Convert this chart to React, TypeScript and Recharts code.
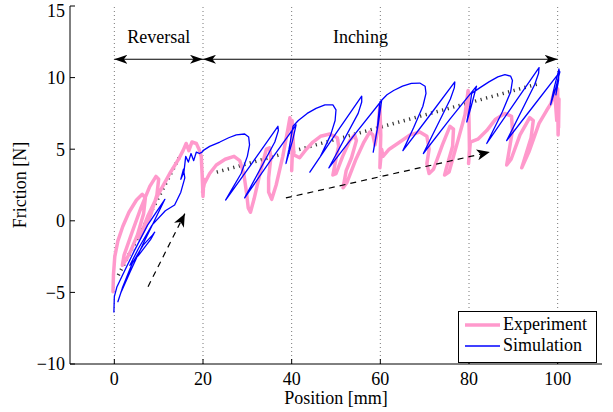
import React from 'react';
import {
  LineChart, Line, XAxis, YAxis, ReferenceLine, ReferenceDot, Legend, Label,
} from 'recharts';

const FONT = 'Liberation Serif, Tinos, Times New Roman, Times, DejaVu Serif, serif';

// ---- axis ticks / bounds ----
const xTicks = [0, 20, 40, 60, 80, 100];
const yTicks = [-10, -5, 0, 5, 10, 15];
const xDomain: [number, number] = [-10, 110];
const yDomain: [number, number] = [-10, 15];
const phaseBounds = [0, 20, 40, 60, 80, 100];

// ---- annotations ----
const phaseArrows = [
  { from: 0, to: 20, y: 11.28 },
  { from: 20, to: 100, y: 11.28 },
];
const phaseLabels = [
  { x: 10, y: 12.85, text: 'Reversal' },
  { x: 55.5, y: 12.85, text: 'Inching' },
];
const trendLines: [number, number][][] = [
  [[0.9, -3.8], [14.6, 4.4]],
  [[23.1, 3.4], [96, 9.6]],
];
const directionArrows: [number, number][][] = [
  [[7.6, -4.6], [15.9, 0.5]],
  [[38.7, 1.6], [84.7, 4.8]],
];

// ---- Simulation (blue) path, [position, friction] ----
const simReversal: [number, number][] = [
  [-0.1, -6.4], [0, -5.3], [0.6, -4.6], [2, -3.7], [4.5, -2.1], [7.5, -0.3], [11.4, 1.5],
  [9.5, 0.3], [6.5, -1.6], [3.5, -3.6], [1.5, -5.0], [0.8, -5.65], [1.8, -4.7], [4, -3.0],
  [6.5, -1.7], [8.6, -1.0], [9.1, -0.8], [8.2, -1.3], [5.5, -2.4], [3.5, -3.1], [5.5, -1.9],
  [8.5, -0.3], [11.5, 0.7], [13.6, 1.1], [15, 2], [15.9, 3.0], [15.6, 3.6], [15.0, 2.9],
  [15.7, 3.4], [16.1, 4.5], [16.7, 4.1], [17.3, 4.7], [17.9, 4.2], [18.5, 4.8], [19.2, 4.7],
  [19.8, 4.8], [20, 4.9],
];
const simInch1: [number, number][] = [
  [21.5, 5.2], [23.8, 5.5], [25.8, 5.8], [27.5, 6.0], [29.4, 6.06], [30.3, 5.85], [30.5, 5.3],
  [30.0, 4.5], [28.6, 3.3], [26.5, 2.2], [25.1, 1.45], [31, 4.0], [36.9, 6.6], [37.0, 6.3],
  [36.2, 5.5], [29.4, 1.6], [35.2, 4.2], [41.0, 6.7], [40.2, 5.6], [38.7, 4.0], [39.4, 5.0],
  [40.3, 6.6],
];
const simInch2: [number, number][] = [
  [41.5, 7.0], [43.5, 7.5], [45.5, 7.85], [47.5, 8.1], [49.3, 8.1], [50.0, 7.75], [49.8, 7.0],
  [48.8, 6.0], [46.5, 4.5], [44.1, 3.4], [50, 6.1], [55.8, 8.7], [55.8, 8.3], [55.0, 7.5],
  [48.4, 3.7], [54.4, 6.1], [60.3, 8.4], [59.5, 6.7], [58.4, 4.8], [59.3, 6.4], [59.9, 8.3],
];
const simInch3: [number, number][] = [
  [61.5, 8.8], [63, 9.1], [65, 9.4], [67, 9.6], [68.9, 9.62], [70.1, 9.4], [70.3, 8.9],
  [69.6, 8.0], [67.5, 6.5], [65.1, 4.9], [71, 7.3], [76.8, 9.7], [76.7, 9.3], [75.8, 8.5],
  [69.7, 4.7], [75.7, 7.1], [81.7, 9.4], [80.5, 8.0], [79.5, 6.9], [80.2, 8.0], [80.6, 8.9],
];
const simInch4: [number, number][] = [
  [82.5, 9.3], [84.5, 9.7], [86.5, 10.05], [88.1, 10.2], [89.4, 10.1], [89.8, 9.8], [89.4, 9.0],
  [87.5, 7.6], [84, 5.4], [90, 8.1], [95.8, 10.7], [95.7, 10.3], [94.8, 9.5], [88.5, 5.6],
  [94.5, 8.0], [100.5, 10.4], [99.5, 9.2], [98.4, 8.1], [99.3, 9.4], [100.3, 10.6], [100.2, 9.8],
  [99.6, 8.8], [100.4, 10.5],
];

// ---- Experiment (pink) path, [position, friction] ----
const expReversal: [number, number][] = [
  [-0.3, -4.95], [-0.2, -3.8], [0.1, -2.5], [0.8, -1.4], [1.9, -0.4], [3.3, 0.6], [5, 1.45],
  [6.3, 1.85], [7.0, 1.6], [6.6, 0.5], [5.2, -1.0], [3.7, -2.1], [2.7, -2.7], [1.8, -3.1],
  [2.2, -2.4], [4, -0.8], [6, 0.9], [8, 2.4], [9.4, 3.1], [10.0, 2.9], [9.6, 1.8], [8.2, 0.4],
  [6.6, -0.7], [5.7, -1.2], [7.5, 0.3], [10, 1.9], [12.5, 3.3], [14.4, 4.25], [15.5, 4.9],
  [16.2, 5.4], [16.8, 4.9], [17.5, 5.5], [18.5, 5.4], [19.1, 5.0], [19.6, 4.5], [19.8, 3.3],
  [20, 1.7], [20.2, 2.9], [19.9, 2.0],
];
const expInch1: [number, number][] = [
  [20.3, 2.6], [21.5, 3.3], [23, 3.9], [25, 4.3], [27, 4.5], [28.3, 4.2], [29.2, 3.3],
  [29.8, 2.0], [30.2, 0.9], [30.7, 0.6], [31.5, 1.5], [33, 3.5], [34.3, 5.0], [35, 5.1],
  [35.3, 4.4], [34.8, 3.0], [34.8, 2.0], [35.5, 1.5], [36.5, 2.5], [38, 4.5], [39.2, 6.5],
  [39.6, 7.2], [40, 6.0], [40.1, 4.5], [40, 3.5], [40.2, 5.0], [40.1, 7.0], [40.5, 4.6],
];
const expInch2: [number, number][] = [
  [41.8, 4.4], [43.3, 5.0], [44.8, 5.5], [46.5, 5.9], [48.6, 6.06], [50.3, 5.8], [50.6, 5.2],
  [50.1, 4.5], [49.3, 3.2], [50, 3.3], [51.5, 4.5], [53.1, 5.6], [54.2, 6.0], [54.6, 5.6],
  [53.5, 4.4], [52.3, 3.5], [51.6, 2.3], [52.5, 2.7], [54.5, 4.3], [56.3, 5.5], [57.6, 6.2],
  [58.3, 6.0], [58.8, 5.3], [59.5, 6.5], [59.9, 8.0], [60.1, 6.0], [59.9, 3.7], [60.3, 5.0],
  [60.6, 4.5],
];
const expInch3: [number, number][] = [
  [62, 5.0], [64.4, 5.5], [66.7, 6.0], [68.9, 6.2], [70.5, 5.9], [71, 5.0], [70.5, 4.0],
  [71, 3.3], [72, 3.6], [74, 5.3], [75.7, 6.6], [76.5, 6.4], [76.3, 5.2], [75, 3.8], [74.5, 3.2],
  [75.5, 3.4], [77.5, 5.6], [79.1, 7.4], [79.8, 9.1], [80, 7.0], [80.1, 5.0], [79.9, 4.0],
  [80.3, 5.5],
];
const expInch4: [number, number][] = [
  [82, 5.7], [84, 6.3], [86, 7.1], [88.1, 7.5], [89.6, 7.3], [89.8, 6.3], [89, 4.8], [88.5, 3.9],
  [89.5, 4.3], [91.5, 6.0], [93.7, 7.2], [94.5, 7.0], [94, 5.8], [92.5, 4.3], [91.9, 3.7],
  [93.5, 4.8], [95.8, 6.8], [97.5, 7.7], [98.5, 8.2], [99.3, 9.1], [99.8, 7.0], [100, 9.2],
  [100.1, 6.0], [100.3, 8.5], [100.2, 6.5],
];

const toPts = (arr: [number, number][]) => arr.map(([x, y]) => ({ x, y }));
const simData = toPts([...simReversal, ...simInch1, ...simInch2, ...simInch3, ...simInch4]);
const expData = toPts([...expReversal, ...expInch1, ...expInch2, ...expInch3, ...expInch4]);

const legendItems = [
  { name: 'Experiment', color: '#ff99cc', width: 3.5 },
  { name: 'Simulation', color: '#0000ff', width: 1.3 },
];

const fmt = (v: number) => (v < 0 ? '\u2212' + Math.abs(v) : String(v));

const renderLegend = () => (
  <div
    style={{
      width: 139, height: 52, border: '1px solid #000', background: '#fff',
      boxSizing: 'border-box', fontFamily: FONT, fontSize: 18, paddingTop: 2, color: '#000',
    }}
  >
    {legendItems.map((it) => (
      <div key={it.name} style={{ display: 'flex', alignItems: 'center', height: 21 }}>
        <svg width={44} height={10} style={{ flex: 'none' }}>
          <line x1={6} x2={41} y1={5} y2={5} stroke={it.color} strokeWidth={it.width} />
        </svg>
        <span style={{ lineHeight: '21px' }}>{it.name}</span>
      </div>
    ))}
  </div>
);

const arrowLine = (marker: string, both: boolean, dash?: string) => (p: any) => (
  <line
    x1={p.x1} y1={p.y1} x2={p.x2} y2={p.y2}
    stroke="#000" strokeWidth={1.2}
    strokeDasharray={dash}
    markerEnd={`url(#${marker})`}
    markerStart={both ? `url(#${marker})` : undefined}
  />
);

export default function App() {
  const tickStyle = { fontFamily: FONT, fontSize: 18, fill: '#000' };
  return (
    <div style={{ position: 'absolute', left: 0, top: 0, background: '#fff', fontFamily: FONT }}>
      <svg width={0} height={0} style={{ position: 'absolute' }}>
        <defs>
          <marker id="headThin" viewBox="0 0 13 9" refX={13} refY={4.5} markerWidth={13} markerHeight={9}
            markerUnits="userSpaceOnUse" orient="auto-start-reverse">
            <path d="M0,0 L13,4.5 L0,9 L3.5,4.5 Z" fill="#000" />
          </marker>
          <marker id="headWide" viewBox="0 0 13 11" refX={13} refY={5.5} markerWidth={13} markerHeight={11}
            markerUnits="userSpaceOnUse" orient="auto-start-reverse">
            <path d="M0,0 L13,5.5 L0,11 L3.5,5.5 Z" fill="#000" />
          </marker>
        </defs>
      </svg>
      <LineChart width={613} height={412} margin={{ top: 6, right: 11, bottom: 0, left: 0 }}
        style={{ fontFamily: FONT }}>
        <XAxis
          dataKey="x" type="number" domain={xDomain} ticks={xTicks} allowDataOverflow
          height={48} tickSize={-5} tickMargin={13} tick={tickStyle} tickFormatter={fmt}
          stroke="#000" tickLine={{ stroke: '#000' }} axisLine={{ stroke: '#000' }}
        >
          <Label value="Position [mm]" position="insideBottom" offset={8}
            style={{ fontFamily: FONT, fontSize: 18, fill: '#000' }} />
        </XAxis>
        <XAxis
          xAxisId="top" orientation="top" type="number" domain={xDomain} ticks={xTicks} allowDataOverflow
          height={0} tickSize={-5} tick={false} stroke="#000"
          tickLine={{ stroke: '#000' }} axisLine={{ stroke: '#000' }}
        />
        <YAxis
          type="number" domain={yDomain} ticks={yTicks} allowDataOverflow
          width={70} tickSize={-5} tickMargin={10} tick={tickStyle} tickFormatter={fmt}
          stroke="#000" tickLine={{ stroke: '#000' }} axisLine={{ stroke: '#000' }}
        >
          <Label value="Friction [N]" angle={-90} position="center" dx={-15}
            style={{ fontFamily: FONT, fontSize: 18, fill: '#000', textAnchor: 'middle' }} />
        </YAxis>
        <YAxis
          yAxisId="right" orientation="right" type="number" domain={yDomain} ticks={yTicks} allowDataOverflow
          width={0} tickSize={-5} tick={false} stroke="#000"
          tickLine={{ stroke: '#000' }} axisLine={{ stroke: '#000' }}
        />

        {phaseBounds.map((b) => (
          <ReferenceLine key={'b' + b} x={b} stroke="#777" strokeWidth={1} strokeDasharray="1 3" />
        ))}

        {trendLines.map((seg, i) => (
          <ReferenceLine
            key={'t' + i}
            segment={[{ x: seg[0][0], y: seg[0][1] }, { x: seg[1][0], y: seg[1][1] }]}
            stroke="#333" strokeWidth={3.5} strokeDasharray="1.2 4.5"
          />
        ))}

        <Line data={expData} dataKey="y" type="linear" stroke="#ff99cc" strokeWidth={3.5}
          strokeLinejoin="round" strokeLinecap="round" dot={false} isAnimationActive={false}
          legendType="none" />
        <Line data={simData} dataKey="y" type="linear" stroke="#0000ff" strokeWidth={1.3}
          strokeLinejoin="round" dot={false} isAnimationActive={false} legendType="none" />

        {phaseArrows.map((a, i) => (
          <ReferenceLine
            key={'pa' + i}
            segment={[{ x: a.from, y: a.y }, { x: a.to, y: a.y }]}
            stroke="#000"
            shape={arrowLine('headThin', true)}
          />
        ))}
        {directionArrows.map((seg, i) => (
          <ReferenceLine
            key={'da' + i}
            segment={[{ x: seg[0][0], y: seg[0][1] }, { x: seg[1][0], y: seg[1][1] }]}
            stroke="#000"
            shape={arrowLine('headWide', false, '6 5')}
          />
        ))}
        {phaseLabels.map((l) => (
          <ReferenceDot
            key={l.text} x={l.x} y={l.y} r={1} fill="none" stroke="none"
            label={{ value: l.text, position: 'center', fontFamily: FONT, fontSize: 18, fill: '#000' }}
          />
        ))}

        <Legend
          layout="vertical" align="center" verticalAlign="middle"
          wrapperStyle={{ left: 458, top: 311, width: 139, height: 52 }}
          content={renderLegend}
        />
      </LineChart>
    </div>
  );
}
